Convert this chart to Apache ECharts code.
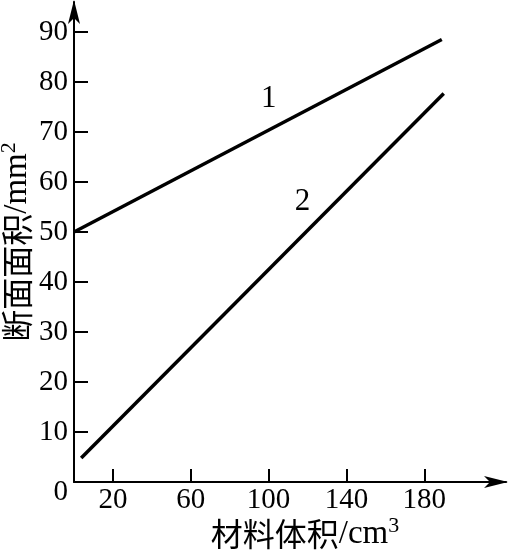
<!DOCTYPE html>
<html>
<head>
<meta charset="utf-8">
<script src="https://cdn.jsdelivr.net/npm/echarts@6/dist/echarts.min.js"></script>
<style>html,body{margin:0;padding:0;background:#fff}#c{width:508px;height:550px}</style>
</head>
<body>
<div id="c"></div>
<script>
// Data
var xTicks = [20, 60, 100, 140, 180];
var yTicks = [0, 10, 20, 30, 40, 50, 60, 70, 80, 90];
var line1 = [[0, 50], [189, 88.5]];
var line2 = [[3.7, 4.8], [190, 77.7]];
var curveLabels = [[100.1, 76.6, '1'], [117.4, 56, '2']];
var xNameCJK = '材料体积', xNameUnit = '/cm', xNameSup = '3';
var yNameCJK = '断面面积', yNameUnit = '/mm', yNameSup = '2';

var FONT = '"Liberation Serif", "Noto Sans CJK SC", serif';
var CJK = '"Noto Sans CJK SC", sans-serif';
var nameRich = {
  a: {fontFamily: CJK, fontSize: 32, color: '#000'},
  b: {fontFamily: FONT, fontSize: 33, color: '#000'},
  s: {fontFamily: FONT, fontSize: 22, color: '#000', padding: [0, 0, 16, 0]}
};
var chart = echarts.init(document.getElementById('c'), null, {renderer: 'canvas'});
chart.setOption({
  backgroundColor: '#fff',
  animation: false,
  grid: {left: 74, right: 2, top: 2, bottom: 68, containLabel: false, outerBoundsMode: 'none'},
  xAxis: {
    type: 'value', min: 0, max: 222,
    splitLine: {show: false},
    axisLine: {show: true, lineStyle: {color: '#000', width: 2}, symbol: ['none', 'arrow'], symbolSize: [9, 24], symbolOffset: [0, 2]},
    axisTick: {show: true, inside: true, length: 13, lineStyle: {color: '#000', width: 2}, customValues: xTicks},
    axisLabel: {customValues: xTicks, color: '#000', fontFamily: FONT, fontSize: 29, margin: 4},
    name: '{a|' + xNameCJK + '}{b|' + xNameUnit + '}{s|' + xNameSup + '}',
    nameLocation: 'middle', nameGap: 33, nameMoveOverlap: false,
    nameTextStyle: {padding: [0, 0, 0, 30], rich: nameRich}
  },
  yAxis: {
    type: 'value', min: 0, max: 96,
    splitLine: {show: false},
    axisLine: {show: true, lineStyle: {color: '#000', width: 2}, symbol: ['none', 'arrow'], symbolSize: [9, 24], symbolOffset: [0, 2]},
    axisTick: {show: true, inside: true, length: 14, lineStyle: {color: '#000', width: 2}, customValues: yTicks.slice(1)},
    axisLabel: {
      customValues: yTicks, color: '#000', fontFamily: FONT, fontSize: 29, margin: 6,
      formatter: function (v) { return v === 0 ? '{z|0}' : String(v); },
      rich: {z: {fontFamily: FONT, fontSize: 29, color: '#000', padding: [20, 0, 0, 0]}}
    },
    name: '{a|' + yNameCJK + '}{b|' + yNameUnit + '}{s|' + yNameSup + '}',
    nameLocation: 'middle', nameGap: 38, nameRotate: 90, nameMoveOverlap: false,
    nameTextStyle: {rich: nameRich}
  },
  series: [
    {type: 'line', data: line1, symbol: 'none', clip: false, lineStyle: {color: '#000', width: 3.5}},
    {type: 'line', data: line2, symbol: 'none', clip: false, lineStyle: {color: '#000', width: 3.5}},
    {type: 'scatter', data: curveLabels, symbolSize: 1, itemStyle: {color: 'rgba(0,0,0,0)', opacity: 1},
     label: {show: true, position: 'inside', formatter: function (p) { return p.data[2]; }, color: '#000', opacity: 1, textBorderWidth: 0, fontFamily: FONT, fontSize: 31}}
  ]
});
</script>
</body>
</html>
